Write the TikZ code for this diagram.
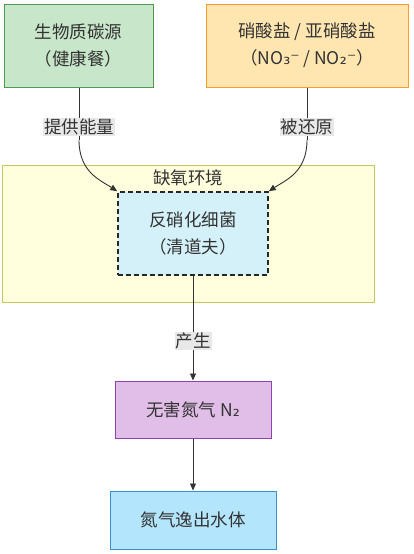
\documentclass[tikz,border=0pt]{standalone}
\usepackage{fontspec}
\setmainfont{Noto Sans CJK SC}
\newfontfamily\dvs{DejaVu Sans}
\usetikzlibrary{arrows.meta}
\definecolor{gfill}{HTML}{C8E6C9}\definecolor{gdraw}{HTML}{4E9A4E}
\definecolor{ofill}{HTML}{FFE6B0}\definecolor{odraw}{HTML}{FF9A2E}
\definecolor{yfill}{HTML}{FFFFDE}\definecolor{ydraw}{HTML}{C8C85A}
\definecolor{bfill}{HTML}{D4F1F9}
\definecolor{pfill}{HTML}{E1BEE7}\definecolor{pdraw}{HTML}{8E44AD}
\definecolor{cfill}{HTML}{B3E5FC}\definecolor{cdraw}{HTML}{3A8FD0}
\definecolor{lfill}{HTML}{E8E8E8}\definecolor{edge}{HTML}{333333}
\definecolor{txt}{HTML}{333333}
\tikzset{
  box/.style={draw, line width=1pt, minimum width=#1, inner sep=0pt, align=center, text=txt, font=\fontsize{17.5}{27}\selectfont},
  lbl/.style={fill=lfill, inner sep=1pt, text=txt, font=\fontsize{17.5}{20}\selectfont},
  conn/.style={draw=edge, line width=0.9pt, -{Triangle[length=7pt,width=6pt]}},
  plain/.style={draw=edge, line width=0.9pt}
}
\begin{document}
\begin{tikzpicture}[x=1pt,y=-1pt]
\useasboundingbox (0,0) rectangle (413,554);
% cluster
\node[draw=ydraw, fill=yfill, line width=1pt, minimum width=372pt, minimum height=137pt, inner sep=0pt] (cl) at (188,233.5) {};
\node[text=txt, font=\fontsize{17.5}{20}\selectfont] (clt) at (188,178) {缺氧环境};
% boxes
\node[box=149pt, fill=gfill, draw=gdraw, minimum height=83pt] (src) at (78.5,45.5) {生物质碳源\\（健康餐）};
\node[box=202pt, fill=ofill, draw=odraw, minimum height=83pt] (nit) at (307,45.5) {硝酸盐 / 亚硝酸盐\\（NO{\dvs ₃⁻} / NO{\dvs ₂⁻}）};
\node[box=150pt, fill=bfill, draw=black!85, dashed, dash pattern=on 5pt off 3pt, line width=1.6pt, minimum height=83pt] (bac) at (193,233.5) {反硝化细菌\\（清道夫）};
\node[box=156pt, fill=pfill, draw=pdraw, minimum height=57pt] (n2) at (193,409.5) {无害氮气 N{\dvs ₂}};
\node[box=166pt, fill=cfill, draw=cdraw, minimum height=58pt] (out) at (193,520) {氮气逸出水体};
% connectors
\coordinate (l1) at (79,140);
\coordinate (r1) at (307,140);
\draw[plain] (src.south -| l1) -- (l1);
\draw[conn] (l1) .. controls (79,172) and (100,180) .. (bac.north west);
\draw[plain] (nit.south -| r1) -- (r1);
\draw[conn] (r1) .. controls (307,172) and (286,180) .. (bac.north east);
\draw[conn] (bac.south) -- (n2.north);
\draw[conn] (n2.south) -- (out.north);
% labels
\node[lbl] (e1) at (79,127) {提供能量};
\node[lbl] (e2) at (307,127) {被还原};
\node[lbl] (e3) at (193,341) {产生};
\end{tikzpicture}
\end{document}
